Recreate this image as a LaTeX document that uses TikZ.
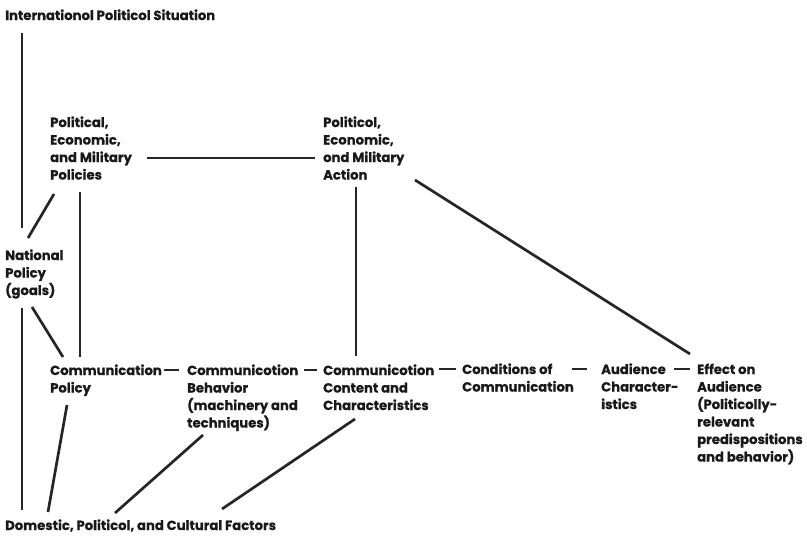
\documentclass[tikz,border=0pt]{standalone}
\usepackage{fontspec}
\setmainfont{Poppins}[BoldFeatures={FakeBold=0.6}]
\usetikzlibrary{calc}
\begin{document}
\begin{tikzpicture}[x=1pt,y=-1pt,
  lbl/.style={anchor=base west,inner sep=0pt,align=left,text=black!90,font=\fontsize{13.2}{17.5}\selectfont\bfseries},
  conn/.style={line width=2.7pt,black!85},
  dashc/.style={line width=2.3pt,black!85}]
\useasboundingbox (0,0) rectangle (807,538);
% nodes placed by the baseline of their last line
\node[lbl] (intl) at (5,20) {Internationol Politicol Situation};
\node[lbl] (pol) at (50,179.5) {Political,\\Economic,\\and Military\\Policies};
\node[lbl] (act) at (323,179.5) {Politicol,\\Economic,\\ond Military\\Action};
\node[lbl] (nat) at (5,295) {National\\Policy\\(goals)};
\node[lbl] (cpol) at (50,392.5) {Communication\\Policy};
\node[lbl] (cbeh) at (187,427.5) {Communicotion\\Behavior\\(machinery and\\techniques)};
\node[lbl] (ccon) at (323,410) {Communicotion\\Content and\\Characteristics};
\node[lbl] (cond) at (462,391.5) {Conditions of\\Communication};
\node[lbl] (aud) at (601,409) {Audience\\Character-\\istics};
\node[lbl] (eff) at (697,461.5) {Effect on\\Audience\\(Politicolly-\\relevant\\predispositions\\and behavior)};
\node[lbl] (dom) at (5,530) {Domestic, Politicol, and Cultural Factors};
% connectors
\draw[conn] ($(intl.base west)+(17,13)$) -- ($(nat.base west)+(17,-67)$);
\draw[conn] ($(nat.base west)+(23,-57)$) -- ($(pol.base west)+(4,14.5)$);
\draw[conn] ($(pol.base west)+(30,12.5)$) -- ($(cpol.base west)+(30,-35.5)$);
\draw[conn] ($(pol.base west)+(97,-21.5)$) -- ($(act.base west)+(-8,-21.5)$);
\draw[conn] ($(act.base west)+(33,7.5)$) -- ($(ccon.base west)+(33,-54)$);
\draw[conn] ($(act.base west)+(92,0.5)$) -- ($(eff.base west)+(-7,-107.5)$);
\draw[conn] ($(nat.base west)+(27,12)$) -- ($(cpol.base west)+(13,-35.5)$);
\draw[conn] ($(nat.base west)+(17,13)$) -- ($(dom.base west)+(17,-20)$);
\draw[conn] ($(cpol.base west)+(17,12.5)$) -- ($(dom.base west)+(43,-18)$);
\draw[conn] ($(cbeh.base west)+(16,7.5)$) -- ($(dom.base west)+(110,-17)$);
\draw[conn] ($(ccon.base west)+(32,9)$) -- ($(dom.base west)+(217,-21)$);
% dashes between the items of the lower row
\draw[dashc] ($(cpol.base west)+(114,-22.5)$) -- ($(cbeh.base west)+(-8,-57.5)$);
\draw[dashc] ($(cbeh.base west)+(117,-57.5)$) -- ($(ccon.base west)+(-6,-40)$);
\draw[dashc] ($(ccon.base west)+(116,-41)$) -- ($(cond.base west)+(-6,-22.5)$);
\draw[dashc] ($(cond.base west)+(110,-22.5)$) -- ($(aud.base west)+(-14,-40)$);
\draw[dashc] ($(aud.base west)+(73,-40)$) -- ($(eff.base west)+(-7,-92.5)$);
\end{tikzpicture}
\end{document}
